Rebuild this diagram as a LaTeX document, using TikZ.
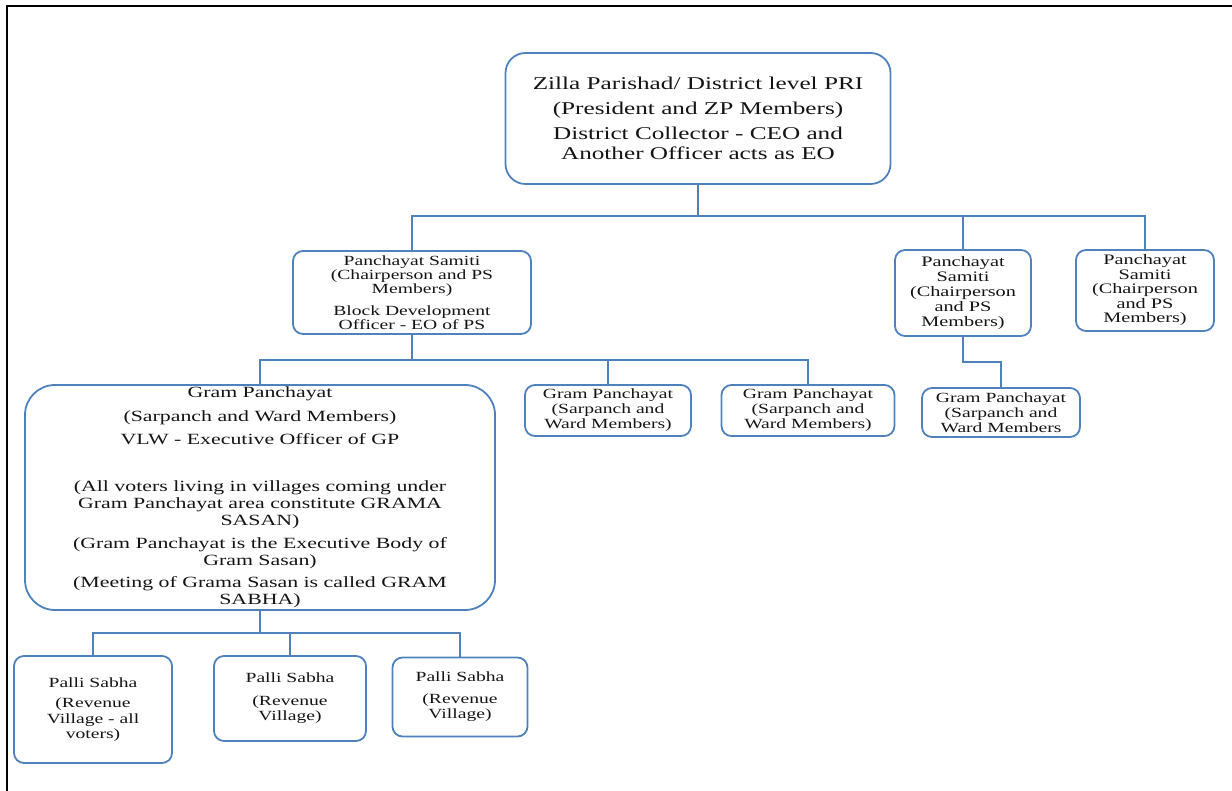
\documentclass[tikz,border=0pt]{standalone}
\usepackage{fontspec}
\setmainfont{Liberation Serif}[FakeStretch=1.4]
\definecolor{boxblue}{RGB}{79,129,189}
\definecolor{txt}{RGB}{20,20,20}
\tikzset{
  orgbox/.style={draw=boxblue, line width=1.8pt, rounded corners=10pt, inner sep=0pt,
    align=center, text=txt, font=\fontsize{14}{15}\selectfont},
  link/.style={draw=boxblue, line width=2pt},
  frame/.style={draw=black, line width=2.5pt}
}
\begin{document}
\begin{tikzpicture}[x=1pt, y=-1pt]
\useasboundingbox (0,0) rectangle (1232,791);
\draw[frame] (7,791) -- (7,6) -- (1232,6);

\node[orgbox, rounded corners=20pt, minimum width=385pt, minimum height=131pt,
  font=\fontsize{18}{20}\selectfont] (zp) at (698,118.5)
  {Zilla Parishad/ District level PRI\\[5pt](President and ZP Members)\\[5pt]District Collector - CEO and\\Another Officer acts as EO};

\node[orgbox, minimum width=238pt, minimum height=83pt, font=\fontsize{14}{14}\selectfont] (ps1) at (412,292.5)
  {Panchayat Samiti\\(Chairperson and PS\\Members)\\[8pt]Block Development\\Officer - EO of PS};
\node[orgbox, minimum width=136pt, minimum height=86pt, font=\fontsize{14.5}{14.8}\selectfont] (ps2) at (963,293)
  {Panchayat\\Samiti\\(Chairperson\\and PS\\Members)};
\node[orgbox, minimum width=138pt, minimum height=81pt, font=\fontsize{14.5}{14.5}\selectfont] (ps3) at (1145,290.5)
  {Panchayat\\Samiti\\(Chairperson\\and PS\\Members)};

\node[orgbox, rounded corners=30pt, minimum width=470pt, minimum height=225pt,
  font=\fontsize{15.6}{17.2}\selectfont] (gp1) at (260,497.5)
  {Gram Panchayat\\[6pt](Sarpanch and Ward Members)\\[6pt]VLW - Executive Officer of GP\\[30pt](All voters living in villages coming under\\Gram Panchayat area constitute GRAMA\\SASAN)\\[5pt](Gram Panchayat is the Executive Body of\\Gram Sasan)\\[5pt](Meeting of Grama Sasan is called GRAM\\SABHA)};
\node[orgbox, minimum width=166pt, minimum height=51pt] (gp2) at (608,410.5)
  {Gram Panchayat\\(Sarpanch and\\Ward Members)};
\node[orgbox, minimum width=173pt, minimum height=51pt] (gp3) at (808,410.5)
  {Gram Panchayat\\(Sarpanch and\\Ward Members)};
\node[orgbox, minimum width=158pt, minimum height=49pt] (gp4) at (1001,412.5)
  {Gram Panchayat\\(Sarpanch and\\Ward Members};

\node[orgbox, minimum width=158pt, minimum height=107pt, font=\fontsize{14}{15.5}\selectfont] (pa) at (93,709.5)
  {Palli Sabha\\[5pt](Revenue\\Village - all\\voters)};
\node[orgbox, minimum width=152pt, minimum height=85pt, font=\fontsize{14}{15.5}\selectfont] (pb) at (290,698.5)
  {Palli Sabha\\[7pt](Revenue\\Village)};
\node[orgbox, minimum width=135pt, minimum height=79pt, font=\fontsize{14}{15.5}\selectfont] (pc) at (460,697)
  {Palli Sabha\\[6pt](Revenue\\Village)};

\coordinate (j1) at (698,216);
\draw[link] (zp.south) -- (j1);
\draw[link] (j1) -| (ps1.north);
\draw[link] (j1) -| (ps2.north);
\draw[link] (j1) -| (ps3.north);

\coordinate (j2) at (412,360);
\draw[link] (ps1.south) -- (j2);
\draw[link] (j2) -| (gp1.north);
\draw[link] (j2) -| (gp2.north);
\draw[link] (j2) -| (gp3.north);

\coordinate (j3) at (963,362);
\draw[link] (ps2.south) -- (j3) -| (gp4.north);

\coordinate (j4) at (260,633);
\draw[link] (gp1.south) -- (j4);
\draw[link] (j4) -| (pa.north);
\draw[link] (j4) -| (pb.north);
\draw[link] (j4) -| (pc.north);
\end{tikzpicture}
\end{document}
